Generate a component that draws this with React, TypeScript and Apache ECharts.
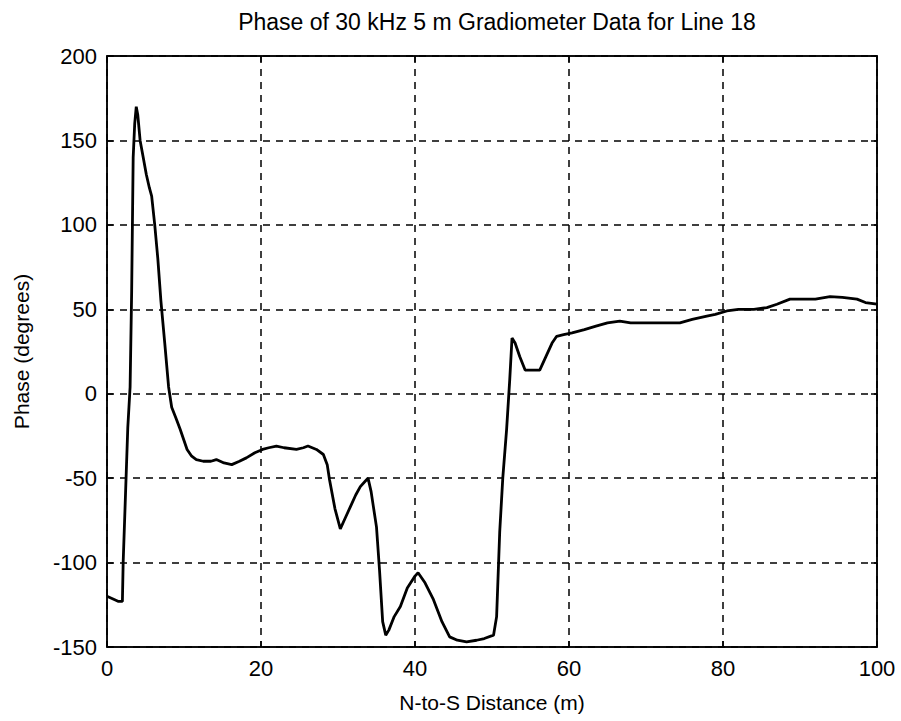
import React, { useEffect, useRef } from "react";
import * as echarts from "echarts";

const titleText = "Phase of 30 kHz 5 m Gradiometer Data for Line 18";
const xAxisName = "N-to-S Distance (m)";
const yAxisName = "Phase (degrees)";

const distance = [
  0, 0.5, 1, 1.5, 2, 2.1, 2.4, 2.7, 3.0, 3.2, 3.4, 3.6, 3.8, 4.0, 4.3, 4.7, 5.1, 5.5, 5.8, 6.2,
  6.6, 7.0, 7.5, 8.0, 8.4, 9.0, 9.5, 10.4, 11.0, 11.6, 12.5, 13.5, 14.2, 15.2, 16.2, 17.2, 18.1, 19.2, 20.2, 21.0,
  22.0, 23.0, 24.6, 25.5, 26.1, 27.2, 28.1, 28.6, 28.9, 29.6, 30.3, 31.0, 31.6, 32.3, 32.9, 33.5, 33.9, 34.3, 34.6, 35.0,
  35.4, 35.8, 36.2, 36.6, 37.3, 38.1, 39.0, 40.0, 40.4, 41.3, 42.4, 43.5, 44.5, 45.5, 46.7, 48.0, 49.0, 50.2, 50.6, 51.0,
  51.4, 51.9, 52.3, 52.6, 53.0, 53.6, 54.3, 55.2, 56.2, 57.0, 57.8, 58.4, 59.3, 60.4, 62.0, 63.5, 65.0, 66.6, 68.0, 70.0,
  72.0, 74.4, 76.0, 77.9, 79.0, 80.5, 82.0, 84.0, 85.7, 87.0, 88.7, 90.0, 92.0, 93.9, 95.5, 97.4, 98.5, 100,
];

const phase = [
  -120, -121, -122, -123, -123, -100, -60, -20, 4, 60, 140, 160, 170, 165, 150, 140, 130, 122, 117, 100,
  80, 55, 30, 4, -8, -15, -21, -33, -37, -39, -40, -40, -39, -41, -42, -40, -38, -35, -33, -32,
  -31, -32, -33, -32, -31, -33, -36, -42, -51, -68, -80, -73, -67, -60, -55, -52, -50, -58, -67, -79,
  -105, -135, -143, -140, -132, -126, -115, -108, -106, -112, -122, -135, -144, -146, -147, -146, -145, -143, -132, -82,
  -50, -21, 8, 33, 30, 22, 14, 14, 14, 22, 30, 34, 35, 36, 38, 40, 42, 43, 42, 42,
  42, 42, 44, 46, 47, 49, 50, 50, 51, 53, 56, 56, 56, 57.5, 57, 56, 54, 53,
];

const FONT = "'Liberation Sans', Arial, sans-serif";

export default function App() {
  const ref = useRef<HTMLDivElement>(null);
  useEffect(() => {
    if (!ref.current) return;
    const chart = echarts.init(ref.current, null, { renderer: "svg" });
    const data = distance.map((d, i) => [d, phase[i]]);
    const grid = { left: 107, top: 56, width: 770, height: 591 };
    const dashed = { show: true, lineStyle: { color: "#000", type: [7, 6] as any, width: 1.5 } };
    const solidAxis = { show: true, onZero: false, lineStyle: { color: "#000", width: 1.5 } };
    const tick = { show: true, inside: true, length: 6, lineStyle: { color: "#000", width: 1.5 } };
    chart.setOption({
      animation: false,
      backgroundColor: "#fff",
      title: {
        text: titleText,
        left: 492,
        textAlign: "center",
        top: 5,
        textStyle: { fontFamily: FONT, fontSize: 23, fontWeight: "normal", color: "#000" },
      },
      grid: { ...grid, show: true, borderColor: "#000", borderWidth: 1.5, backgroundColor: "transparent" },
      xAxis: [
        {
          type: "value",
          min: 0,
          max: 100,
          interval: 20,
          name: xAxisName,
          nameLocation: "middle",
          nameGap: 45,
          nameTextStyle: { fontFamily: FONT, fontSize: 21, color: "#000" },
          axisLine: solidAxis,
          axisTick: tick,
          axisLabel: { fontFamily: FONT, fontSize: 22, color: "#000", margin: 10 },
          splitLine: dashed,
        },
        {
          type: "value",
          position: "top",
          min: 0,
          max: 100,
          interval: 20,
          axisLine: solidAxis,
          axisTick: tick,
          axisLabel: { show: false },
          splitLine: { show: false },
        },
      ],
      yAxis: [
        {
          type: "value",
          min: -150,
          max: 200,
          interval: 50,
          name: yAxisName,
          nameLocation: "middle",
          nameGap: 75,
          nameTextStyle: { fontFamily: FONT, fontSize: 21, color: "#000" },
          axisLine: solidAxis,
          axisTick: tick,
          axisLabel: { fontFamily: FONT, fontSize: 22, color: "#000", margin: 10 },
          splitLine: dashed,
        },
        {
          type: "value",
          position: "right",
          min: -150,
          max: 200,
          interval: 50,
          axisLine: solidAxis,
          axisTick: tick,
          axisLabel: { show: false },
          splitLine: { show: false },
        },
      ],
      series: [
        {
          type: "line",
          data,
          xAxisIndex: 0,
          yAxisIndex: 0,
          showSymbol: false,
          symbol: "none",
          lineStyle: { color: "#000", width: 2.8 },
        },
      ],
    });
    return () => chart.dispose();
  }, []);
  return (
    <div
      ref={ref}
      style={{ position: "fixed", left: 0, top: 0, width: 901, height: 721, background: "#fff" }}
    />
  );
}
